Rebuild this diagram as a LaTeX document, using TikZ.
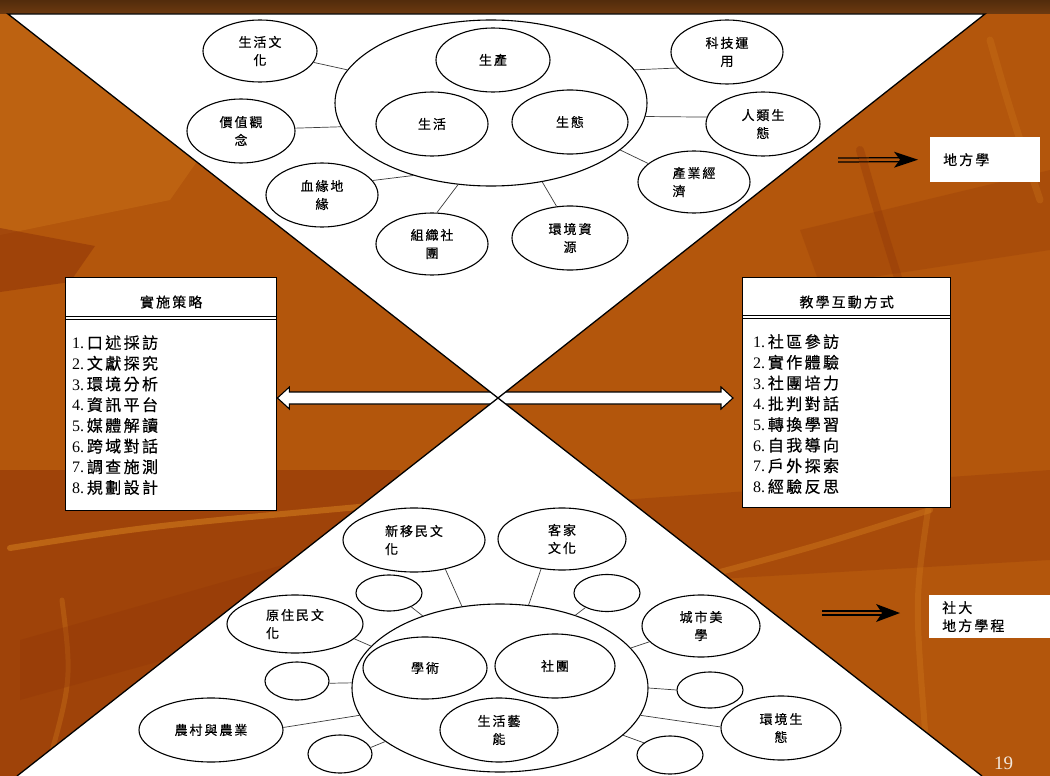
\documentclass[tikz,border=0pt]{standalone}
\usepackage{fontspec}
\setmainfont{Liberation Serif}
\newfontfamily\cjk[LetterSpace=15,FakeBold=0.5]{Noto Sans CJK TC}
\usetikzlibrary{shapes.geometric,arrows.meta,calc}
\definecolor{bgbase}{HTML}{B3560C}
\definecolor{bgdark}{HTML}{8F3408}
\definecolor{bglight}{HTML}{D07A1C}
\definecolor{band}{HTML}{6E3A10}
\definecolor{conncol}{HTML}{3C3C3C}
\definecolor{pnum}{HTML}{F2E8DE}
\begin{document}
\begin{tikzpicture}[x=1pt,y=-1pt,
  ell/.style={ellipse, draw=black, line width=1.1pt, fill=white, inner sep=0pt, align=center, font=\cjk\fontsize{13}{18}\selectfont},
  ellL/.style={ell, align=left},
  conn/.style={draw=conncol, line width=0.7pt},
  tri/.style={draw=black, line width=1.3pt, line join=miter},
  panel/.style={rectangle, draw=black, line width=1.4pt, fill=white, inner sep=0pt},
  ttl/.style={inner sep=0pt, font=\cjk\fontsize{14}{18}\selectfont},
  lst/.style={align=left, inner sep=0pt, font=\fontsize{16}{20.7}\selectfont},
  wbox/.style={rectangle, fill=white, inner ysep=0pt, inner xsep=13pt, align=left, font=\cjk\fontsize{14}{18}\selectfont},
  shaftline/.style={line width=1.2pt, draw=black},
  rule/.style={line width=0.8pt, draw=black},
]
\useasboundingbox (0,0) rectangle (1050,776);

% ---------- background ----------
\fill[bgbase] (0,0) rectangle (1050,776);
\fill[bglight, opacity=0.35] (0,14) -- (300,14) -- (170,200) -- (0,235) -- cycle;
\fill[bgdark, opacity=0.55] (0,228) -- (95,246) -- (70,282) -- (0,292) -- cycle;
\fill[bgdark, opacity=0.55] (0,470) -- (400,470) -- (400,776) -- (0,776) -- cycle;
\draw[bglight, opacity=0.6, line width=6pt, line cap=round] (10,548) .. controls (150,526) .. (370,506);
\draw[bglight, opacity=0.35, line width=5pt, line cap=round] (62,600) .. controls (72,680) .. (45,776);
\fill[bgdark, opacity=0.3] (620,500) -- (1050,470) -- (1050,560) -- (700,580) -- cycle;
\draw[bglight, opacity=0.45, line width=6pt, line cap=round] (720,572) .. controls (820,545) .. (930,510);
\draw[bglight, opacity=0.35, line width=6pt, line cap=round] (928,510) .. controls (915,600) .. (925,730);
\fill[bgdark, opacity=0.25] (800,230) -- (1050,170) -- (1050,250) -- (820,285) -- cycle;
\draw[bgdark, opacity=0.35, line width=8pt, line cap=round] (860,150) .. controls (880,220) .. (905,300);
\draw[bglight, opacity=0.3, line width=7pt, line cap=round] (990,40) .. controls (1010,110) .. (1040,200);
\fill[bgdark, opacity=0.3] (300,560) -- (20,640) -- (20,700) -- (200,650) -- cycle;
\shade[top color=band!75!black, bottom color=band] (0,0) rectangle (1050,14);

% ---------- side panels ----------
\node[panel, minimum width=211pt, minimum height=233pt, anchor=north west] (Lbox) at (65,277) {};
\node[ttl] (Lttl) at (Lbox.north |- 0,302) {實施策略};
\draw[rule] ($(Lbox.north west)+(0,39)$) -- ($(Lbox.north east)+(0,39)$);
\draw[rule] ($(Lbox.north west)+(0,42)$) -- ($(Lbox.north east)+(0,42)$);
\node[lst, anchor=north west] (Llist) at (72,335) {1.\,{\cjk 口述採訪}\\2.\,{\cjk 文獻探究}\\3.\,{\cjk 環境分析}\\4.\,{\cjk 資訊平台}\\5.\,{\cjk 媒體解讀}\\6.\,{\cjk 跨域對話}\\7.\,{\cjk 調查施測}\\8.\,{\cjk 規劃設計}};

\node[panel, minimum width=208pt, minimum height=230pt, anchor=north west] (Rbox) at (742,277) {};
\node[ttl] (Rttl) at (Rbox.north |- 0,302) {教學互動方式};
\draw[rule] ($(Rbox.north west)+(0,38)$) -- ($(Rbox.north east)+(0,38)$);
\draw[rule] ($(Rbox.north west)+(0,41)$) -- ($(Rbox.north east)+(0,41)$);
\node[lst, anchor=north west] (Rlist) at (753,334) {1.\,{\cjk 社區參訪}\\2.\,{\cjk 實作體驗}\\3.\,{\cjk 社團培力}\\4.\,{\cjk 批判對話}\\5.\,{\cjk 轉換學習}\\6.\,{\cjk 自我導向}\\7.\,{\cjk 戶外探索}\\8.\,{\cjk 經驗反思}};

% ---------- double-headed block arrow ----------
\coordinate (apex) at (498,398);
\coordinate (tl) at (Lbox.east |- apex);
\coordinate (tr) at ($(Rbox.west |- apex)+(-9,0)$);
\draw[line width=1.1pt, fill=white, line join=miter] (tl) -- ++(12,-11) -- ++(0,5) -- ($(tr)+(-12,-6)$) -- ++(0,-5) -- (tr) -- ++(-12,11) -- ++(0,-5) -- ($(tl)+(12,6)$) -- ++(0,5) -- cycle;

% ---------- triangles ----------
\fill[white] (8,14) -- (985,14) -- (apex) -- cycle;
\fill[white] (apex) -- (17,776) -- (982,776) -- cycle;
\draw[tri] (8,14) -- (985,14) -- (apex) -- cycle;
\draw[tri] (17,776) -- (apex) -- (982,776);

% ---------- top mind map ----------
\node[ell, minimum width=312pt, minimum height=166pt] (bigT) at (491,103) {};
\node[ell, minimum width=114pt, minimum height=64pt] (shc) at (493,60) {生產};
\node[ell, minimum width=112pt, minimum height=64pt] (shh) at (432,124) {生活};
\node[ell, minimum width=116pt, minimum height=64pt] (sht) at (570,122) {生態};
\node[ell, minimum width=114pt, minimum height=62pt] (o1) at (260,51) {生活文\\化};
\node[ell, minimum width=108pt, minimum height=64pt] (o2) at (241,131) {價值觀\\念};
\node[ell, minimum width=112pt, minimum height=64pt] (o3) at (322,195) {血緣地\\緣};
\node[ell, minimum width=112pt, minimum height=62pt] (o4) at (432,244) {組織社\\團};
\node[ell, minimum width=116pt, minimum height=64pt] (o5) at (570,238) {環境資\\源};
\node[ell, minimum width=112pt, minimum height=64pt] (o6) at (727,52) {科技運\\用};
\node[ell, minimum width=114pt, minimum height=64pt] (o7) at (763,124) {人類生\\態};
\node[ellL, minimum width=112pt, minimum height=62pt] (o8) at (694,182) {產業經\\濟};
\draw[conn] (o1.-12) -- (bigT.167);
\draw[conn] (o2.3) -- (bigT.189);
\draw[conn] (o3.16) -- (bigT.223);
\draw[conn] (o4.81) -- (bigT.248);
\draw[conn] (o5.113) -- (bigT.303);
\draw[conn] (o6.198) -- (bigT.13);
\draw[conn] (o7.173) -- (bigT.-5);
\draw[conn] (o8.158) -- (bigT.-20);

% ---------- bottom mind map ----------
\node[ell, minimum width=296pt, minimum height=168pt] (bigB) at (500,688) {};
\node[ell, minimum width=124pt, minimum height=62pt] (xs) at (425,668) {學術};
\node[ell, minimum width=120pt, minimum height=64pt] (st) at (555,666) {社團};
\node[ell, minimum width=118pt, minimum height=64pt] (sy) at (499,730) {生活藝\\能};
\node[ellL, minimum width=142pt, minimum height=64pt] (b1) at (414,540) {新移民文\\化};
\node[ell, minimum width=128pt, minimum height=62pt] (b2) at (562,539) {客家\\文化};
\node[ell, minimum width=66pt, minimum height=37pt] (b3) at (607,593) {};
\node[ell, minimum width=118pt, minimum height=62pt] (b4) at (701,626) {城市美\\學};
\node[ell, minimum width=66pt, minimum height=36pt] (b5) at (710,690) {};
\node[ell, minimum width=120pt, minimum height=64pt] (b6) at (781,728) {環境生\\態};
\node[ell, minimum width=66pt, minimum height=38pt] (b7) at (670,755) {};
\node[ell, minimum width=66pt, minimum height=36pt] (b8) at (389,593) {};
\node[ellL, minimum width=136pt, minimum height=58pt] (b9) at (295,624) {原住民文\\化};
\node[ell, minimum width=64pt, minimum height=38pt] (b10) at (297,681) {};
\node[ell, minimum width=144pt, minimum height=64pt] (b11) at (211,730) {農村與農業};
\node[ell, minimum width=64pt, minimum height=38pt] (b12) at (340,754) {};
\draw[conn] (b1.-43) -- (bigB.115);
\draw[conn] (b2.235) -- (bigB.71);
\draw[conn] (b3.214) -- (bigB.44);
\draw[conn] (b4.197) -- (bigB.17);
\draw[conn] (b5.180) -- (bigB.0);
\draw[conn] (b6.179) -- (bigB.-11);
\draw[conn] (b7.155) -- (bigB.-21);
\draw[conn] (b8.-32) -- (bigB.137);
\draw[conn] (b9.-14) -- (bigB.162);
\draw[conn] (b10.-4) -- (bigB.178);
\draw[conn] (b11.2) -- (bigB.191);
\draw[conn] (b12.12) -- (bigB.205);

% ---------- result boxes with double arrows ----------
\node[wbox, anchor=north west, text width=84pt, minimum height=45pt] (dfx) at (930,137) {地方學};
\coordinate (s1) at (838,160);
\coordinate (t1) at ($(dfx.west)+(-12,0)$);
\draw[shaftline] ($(s1)+(0,-2)$) -- ($(t1)+(-18,-2)$);
\draw[shaftline] ($(s1)+(0,2)$) -- ($(t1)+(-18,2)$);
\fill[black] (t1) -- ($(t1)+(-24,-8)$) -- ($(t1)+(-18,0)$) -- ($(t1)+(-24,8)$) -- cycle;

\node[wbox, anchor=north west, text width=110pt, minimum height=43pt] (sdx) at (929,595) {社大\\地方學程};
\coordinate (s2) at (822,613);
\coordinate (t2) at ($(sdx.west |- s2)+(-29,0)$);
\draw[shaftline] ($(s2)+(0,-2)$) -- ($(t2)+(-18,-2)$);
\draw[shaftline] ($(s2)+(0,2)$) -- ($(t2)+(-18,2)$);
\fill[black] (t2) -- ($(t2)+(-24,-9)$) -- ($(t2)+(-18,0)$) -- ($(t2)+(-24,9)$) -- cycle;

% ---------- page number ----------
\node[anchor=base west, inner sep=0pt, font=\fontsize{19}{19}\selectfont, text=pnum] (pg) at (994,769) {19};
\end{tikzpicture}
\end{document}
